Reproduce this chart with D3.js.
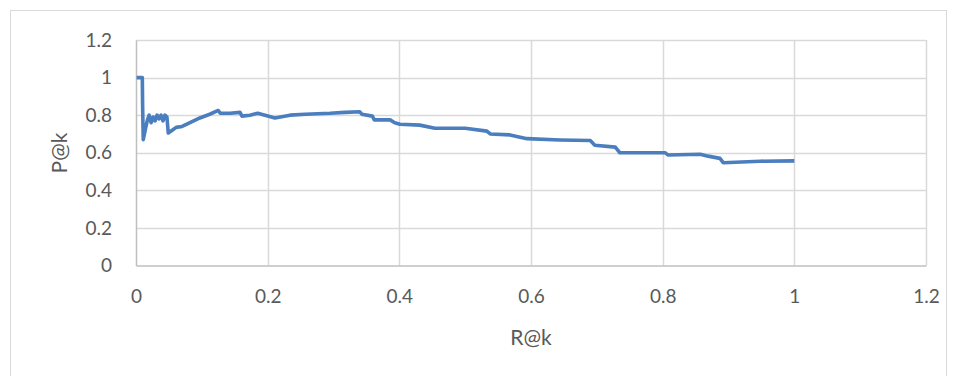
<!DOCTYPE html>
<html>
<head>
<meta charset="utf-8">
<script src="https://cdn.jsdelivr.net/npm/d3@7"></script>
<style>
  body { margin: 0; background: #fff; }
  text { font-family: Lato, "Open Sans", sans-serif; fill: #595959; }
</style>
</head>
<body>
<div id="chart"></div>
<script>
// --------------------------------------
//  data
// --------------------------------------

const recall = [0.001, 0.0096, 0.010, 0.011, 0.014, 0.017, 0.020, 0.023, 0.026, 0.029,
  0.032, 0.035, 0.038, 0.041, 0.044, 0.047, 0.049, 0.055, 0.061, 0.070,
  0.082, 0.097, 0.112, 0.125, 0.128, 0.143, 0.158, 0.161, 0.173, 0.185,
  0.196, 0.211, 0.234, 0.257, 0.295, 0.317, 0.340, 0.343, 0.359, 0.362,
  0.386, 0.393, 0.401, 0.431, 0.454, 0.500, 0.533, 0.538, 0.568, 0.594,
  0.644, 0.690, 0.697, 0.728, 0.735, 0.804, 0.808, 0.857, 0.869, 0.887,
  0.892, 0.948, 1.0];

const precision = [1.0, 1.0, 0.86, 0.67, 0.72, 0.77, 0.80, 0.76, 0.79, 0.77,
  0.80, 0.78, 0.80, 0.77, 0.80, 0.79, 0.705, 0.72, 0.735, 0.74,
  0.76, 0.785, 0.805, 0.825, 0.81, 0.81, 0.815, 0.795, 0.80, 0.81,
  0.80, 0.785, 0.80, 0.805, 0.81, 0.815, 0.818, 0.805, 0.795, 0.775,
  0.775, 0.76, 0.752, 0.747, 0.73, 0.73, 0.715, 0.70, 0.695, 0.675,
  0.668, 0.665, 0.64, 0.63, 0.60, 0.60, 0.588, 0.592, 0.582, 0.57,
  0.547, 0.555, 0.557];

const xTicks = [0, 0.2, 0.4, 0.6, 0.8, 1, 1.2];
const yTicks = [0, 0.2, 0.4, 0.6, 0.8, 1, 1.2];

const data = recall.map((r, i) => ({ r: r, p: precision[i] }));

// --------------------------------------
//  Canvas
// --------------------------------------

const width = 956, height = 376;
const margin = { top: 40, right: 30, bottom: 110.5, left: 136 };
const innerwidth = 926 - margin.left;
const innerheight = 265.5 - margin.top;

const svg = d3.select("#chart")
  .append("svg")
    .attr("width", width)
    .attr("height", height);

svg.append("rect")
    .attr("x", 10.5)
    .attr("y", 10.5)
    .attr("width", 936)
    .attr("height", 380)
    .attr("fill", "none")
    .attr("stroke", "#d9d9d9");

const inner = svg.append("g")
    .attr("transform", `translate(${margin.left}, ${margin.top})`);

// --------------------------------------
//  Scales
// --------------------------------------

const x = d3.scaleLinear().domain([0, 1.2]).range([0, innerwidth]);
const y = d3.scaleLinear().domain([0, 1.2]).range([innerheight, 0]);

// --------------------------------------
//  Grid + axes
// --------------------------------------

inner.append("g")
  .selectAll("line")
  .data(yTicks.slice(1))
  .join("line")
    .attr("x1", 0).attr("x2", innerwidth)
    .attr("y1", d => Math.round(y(d)) + 0.5)
    .attr("y2", d => Math.round(y(d)) + 0.5)
    .attr("stroke", "#d9d9d9").attr("stroke-width", 1.5);

inner.append("g")
  .selectAll("line")
  .data(xTicks.slice(1))
  .join("line")
    .attr("x1", d => Math.round(x(d)) + 0.5)
    .attr("x2", d => Math.round(x(d)) + 0.5)
    .attr("y1", 0).attr("y2", innerheight)
    .attr("stroke", "#d9d9d9").attr("stroke-width", 1.5);

const xAxis = inner.append("g")
    .attr("transform", `translate(0, ${innerheight})`)
    .call(d3.axisBottom(x).tickValues(xTicks).tickFormat(d3.format("")).tickSize(0).tickPadding(24));

const yAxis = inner.append("g")
    .call(d3.axisLeft(y).tickValues(yTicks).tickFormat(d3.format("")).tickSize(0).tickPadding(24));

[xAxis, yAxis].forEach(a => {
  a.select(".domain").attr("stroke", "#bfbfbf").attr("stroke-width", 1.5);
  a.selectAll("text").attr("font-size", 19).attr("fill", "#595959")
    .attr("font-family", "Lato, 'Open Sans', sans-serif");
});

// --------------------------------------
//  Line
// --------------------------------------

inner.append("path")
    .datum(data)
    .attr("fill", "none")
    .attr("stroke", "#4a7ebf")
    .attr("stroke-width", 3.6)
    .attr("stroke-linejoin", "round")
    .attr("d", d3.line().x(d => x(d.r)).y(d => y(d.p)));

// --------------------------------------
//  Axis titles
// --------------------------------------

svg.append("text")
    .attr("x", 531)
    .attr("y", 338)
    .attr("dy", "0.35em")
    .attr("text-anchor", "middle")
    .attr("font-size", 21)
    .text("R@k");

svg.append("text")
    .attr("transform", "translate(60, 153) rotate(-90)")
    .attr("dy", "0.35em")
    .attr("text-anchor", "middle")
    .attr("font-size", 21)
    .text("P@k");
</script>
</body>
</html>
